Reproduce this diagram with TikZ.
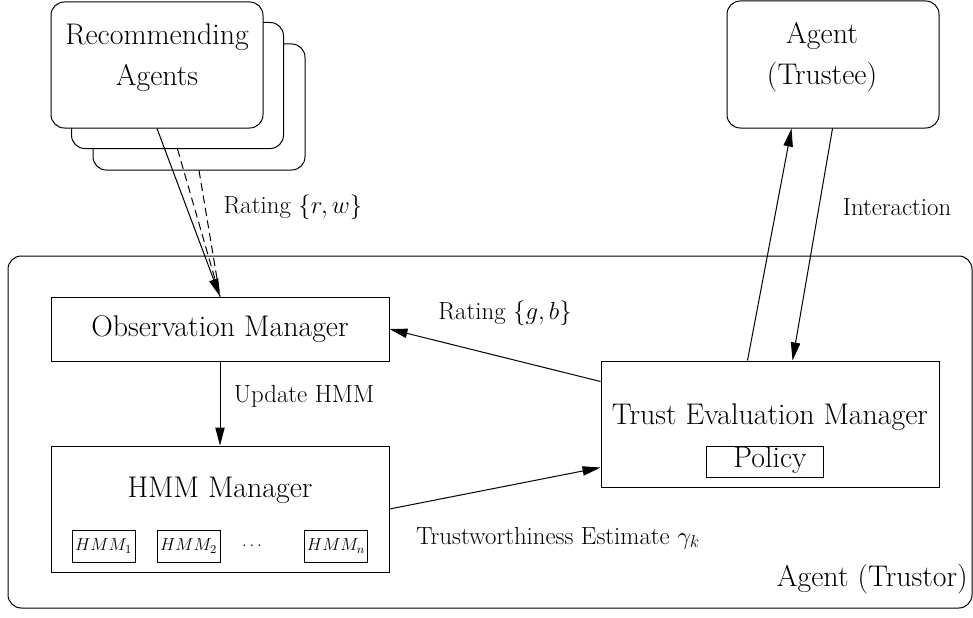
\RequirePackage{fix-cm}
\documentclass[tikz,border=0pt]{standalone}
\usetikzlibrary{arrows.meta,calc}
\tikzset{
  box/.style={draw, line width=0.75pt, inner sep=0pt, fill=white},
  rbox/.style={box, rounded corners=10pt},
  bigtext/.style={font=\fontsize{22.4}{31}\selectfont, inner sep=0pt, align=center},
  smalltext/.style={font=\fontsize{18.6}{21}\selectfont, inner sep=0pt},
  tinytext/.style={font=\fontsize{13}{15}\selectfont, inner sep=0pt},
  arr/.style={-{Triangle[length=13.5pt,width=7pt]}, line width=0.75pt},
  dline/.style={line width=0.75pt, dash pattern=on 6pt off 3.5pt},
}
\begin{document}
\begin{tikzpicture}[x=0.75pt, y=-0.75pt]
\useasboundingbox (0,0) rectangle (973,617);
% outer agent (trustor)
\node[rbox, minimum width=723pt, minimum height=264pt] (outer) at (490,432) {};
\node[bigtext, anchor=east] (trustor) at (968,579) {Agent (Trustor)};
% recommending agents stack
\node[rbox, minimum width=159pt, minimum height=94.5pt] (rec3) at (199,107) {};
\node[rbox, minimum width=159pt, minimum height=94.5pt] (rec2) at (177.5,85.5) {};
\node[rbox, minimum width=159pt, minimum height=94.5pt] (rec1) at (157,65) {};
\node[bigtext] (rectext) at (157,58) {Recommending\\Agents};
% trustee
\node[rbox, minimum width=159pt, minimum height=95.25pt] (trustee) at (833,64.5) {};
\node[bigtext] (trusteetext) at (822,57) {Agent\\(Trustee)};
% managers
\node[box, minimum width=253.5pt, minimum height=48pt, bigtext] (obs) at (220,329) {Observation Manager};
\node[box, minimum width=253.5pt, minimum height=94.5pt] (hmm) at (220,509) {};
\node[bigtext] (hmmtext) at (220,490) {HMM Manager};
\node[box, minimum width=47.25pt, minimum height=24pt, tinytext] (h1) at (103.5,546) {$HMM_1$};
\node[box, minimum width=47.25pt, minimum height=24pt, tinytext] (h2) at (188.5,546) {$HMM_2$};
\node[tinytext] (hdots) at (252,546) {$\ldots$};
\node[box, minimum width=47.25pt, minimum height=24pt, tinytext] (hn) at (336,546) {$HMM_n$};
\node[box, minimum width=253.5pt, minimum height=94.5pt] (tem) at (770,424) {};
\node[bigtext] (temtext) at (770,417) {Trust Evaluation Manager};
\node[box, minimum width=87.75pt, minimum height=23.25pt] (policy) at (764.5,461.5) {};
\node[bigtext] (policytext) at (770,460) {Policy};
% labels
\node[smalltext] (lrw) at (293,207) {Rating $\{r,w\}$};
\node[smalltext] (linter) at (897,207) {Interaction};
\node[smalltext] (lgb) at (505,313) {Rating $\{g,b\}$};
\node[smalltext] (lupd) at (304,396) {Update HMM};
\node[smalltext] (ltrust) at (558,538) {Trustworthiness Estimate $\gamma_k$};
% coordinates
\coordinate (gbS) at ($(tem.north west)+(0,21)$);
\coordinate (trT) at ($(tem.south west)+(0,-20)$);
\coordinate (upS) at ($(tem.north west)+(147,0)$);
\coordinate (upT) at ($(trustee.south west)+(65,0)$);
\coordinate (dnS) at ($(trustee.south west)+(106,0)$);
\coordinate (dnT) at ($(tem.north west)+(192,0)$);
% connectors
\draw[dline] (rec2.south) -- (obs.north);
\draw[dline] (rec3.south) -- (obs.north);
\draw[arr] (rec1.south) -- (obs.north);
\draw[arr] (obs.south) -- (hmm.north);
\draw[arr] (gbS) -- (obs.east);
\draw[arr] (hmm.east) -- (trT);
\draw[arr] (upS) -- (upT);
\draw[arr] (dnS) -- (dnT);
\end{tikzpicture}
\end{document}
